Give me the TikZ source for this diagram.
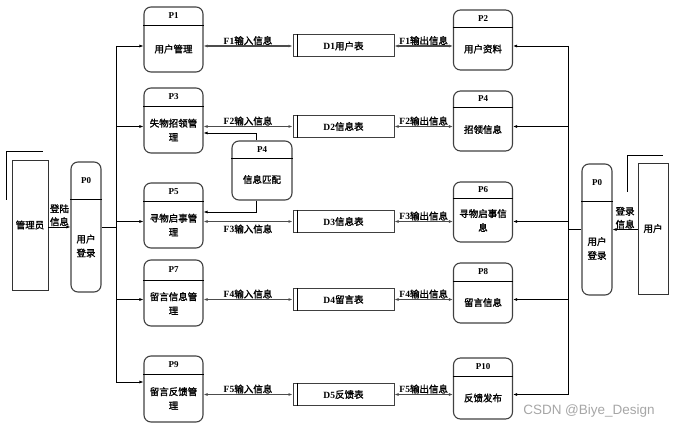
\documentclass[tikz,border=0pt]{standalone}
\usepackage{fontspec}
\setmainfont{Liberation Serif}
\newfontfamily\cjk{Noto Sans CJK SC}[AutoFakeBold=1.5]
\newfontfamily\wmfont{Liberation Sans}
\usetikzlibrary{arrows.meta,calc}

\newcommand{\dfdproc}[6]{%
  \node[procbox,#3] (#1) at (#2) {};
  \draw[divider] ([yshift=-#4]#1.north west) -- ([yshift=-#4]#1.north east);
  \node[ptitle] (#1-id) at ($(#1.north)!.5!([yshift=-#4]#1.north)$) {#5};
  \node[ptext] (#1-txt) at ($([yshift=-#4]#1.north)!.5!(#1.south)$) {#6};}

\begin{document}
\begin{tikzpicture}[x=1pt, y=-1pt,
    procbox/.style={draw=black!75, line width=1.1pt, rounded corners=7pt, minimum width=59pt, minimum height=65pt, inner sep=0pt},
    divider/.style={line width=1.2pt},
    ptitle/.style={font=\fontsize{9}{10}\selectfont\bfseries},
    ptext/.style={font=\fontsize{9.5}{14}\selectfont\cjk\bfseries, align=center},
    store/.style={draw=black!75, line width=1pt, minimum width=101pt, minimum height=22pt, inner sep=0pt, font=\fontsize{9.5}{11}\selectfont\bfseries},
    actor/.style={draw=black!80, line width=0.9pt, minimum width=36pt, minimum height=130pt, inner sep=0pt, font=\fontsize{9.5}{11}\selectfont\cjk\bfseries},
    flow/.style={-{Latex[length=4pt,width=3pt]}, line width=0.7pt},
    dflow/.style={{Latex[length=4pt,width=3pt]}-{Latex[length=4pt,width=3pt]}, line width=1.1pt, draw=black!70},
    flab/.style={font=\fontsize{9.5}{12}\selectfont\bfseries, inner sep=0.5pt}]
    \useasboundingbox (0,0) rectangle (681,430);

    \dfdproc{p1}{173.5,39.5}{}{19pt}{P1}{用户管理}
    \dfdproc{p3}{173.5,120.5}{}{19pt}{P3}{失物招领管\\理}
    \dfdproc{p5}{173.5,215.5}{}{19pt}{P5}{寻物启事管\\理}
    \dfdproc{p7}{173.5,293}{minimum height=66pt}{21pt}{P7}{留言信息管\\理}
    \dfdproc{p9}{173.5,389}{minimum height=66pt}{19pt}{P9}{留言反馈管\\理}
    \dfdproc{p2}{483,40}{minimum height=60pt}{18pt}{P2}{用户资料}
    \dfdproc{p4r}{483,121}{minimum height=60pt}{17pt}{P4}{招领信息}
    \dfdproc{p6}{483,212}{minimum height=60pt}{17pt}{P6}{寻物启事信\\息}
    \dfdproc{p8}{483,293}{minimum height=60pt}{19pt}{P8}{留言信息}
    \dfdproc{p10}{483,388.5}{minimum height=61pt}{19pt}{P10}{反馈发布}
    \dfdproc{p4m}{262,170.5}{minimum height=59pt, minimum width=60pt}{18pt}{P4}{信息匹配}
    \dfdproc{p0l}{86,227}{minimum width=30pt, minimum height=130pt}{38pt}{P0}{用户\\登录}
    \dfdproc{p0r}{597,229.5}{minimum width=30pt, minimum height=131pt}{38pt}{P0}{用户\\登录}

    \node[store] (d1) at (343.5,46) {D1\cjk 用户表};
    \node[store] (d2) at (343.5,126.5) {D2\cjk 信息表};
    \node[store] (d3) at (343.5,221.5) {D3\cjk 信息表};
    \node[store] (d4) at (343.5,299.5) {D4\cjk 留言表};
    \node[store] (d5) at (343.5,394.5) {D5\cjk 反馈表};
    \foreach \d in {d1,d2,d3,d4,d5}
        \draw[line width=1pt] ([xshift=5pt]\d.north west) -- ([xshift=5pt]\d.south west);

    \node[actor] (adm) at (30,225) {管理员};
    \node[actor, minimum width=30pt, minimum height=131pt] (usr) at (653,228.5) {用户};
    \draw[line width=0.9pt] ([xshift=-5pt,yshift=-40pt]adm.north west) |- ([xshift=-5pt,yshift=8pt]adm.north east);
    \draw[line width=0.9pt] ([xshift=-10pt,yshift=-29pt]usr.north west) |- ([xshift=-5pt,yshift=7pt]usr.north east);

    \draw[flow] (adm.east |- p0l.east) -- node[flab, above, align=center, font=\fontsize{9.5}{13}\selectfont\cjk\bfseries] {登陆\\信息} (p0l.west);
    \draw[flow] (usr.west |- p0r.east) -- node[flab, above, align=center, font=\fontsize{9.5}{13}\selectfont\cjk\bfseries] {登录\\信息} (p0r.east);

    \coordinate (lb1) at (116,46);
    \coordinate (lb2) at (116,382);
    \draw[line width=0.7pt] (lb1) -- (lb2);
    \draw[line width=0.7pt] (p0l.east) -- (p0l.east -| lb1);
    \foreach \p/\d in {p1/d1, p3/d2, p5/d3, p7/d4}
        \draw[flow] (lb1 |- \d.west) -- (\p.west |- \d.west);
    \draw[flow] (lb2) -- (lb2 -| p9.west);

    \coordinate (rb1) at (568,46);
    \coordinate (rb2) at (568,395);
    \draw[line width=0.7pt] (rb1) -- (rb2);
    \draw[line width=0.7pt] (p0r.west) -- (p0r.west -| rb1);
    \foreach \p/\d in {p2/d1, p4r/d2, p6/d3, p8/d4, p10/d5}
        \draw[flow] (rb1 |- \d.east) -- (\p.east |- \d.east);

    \foreach \p/\d/\n in {p1/d1/1, p3/d2/2, p7/d4/4, p9/d5/5}
        \draw[dflow] (\p.east |- \d.west) -- node[flab, above] {F\n\cjk 输入信息} (\d.west);
    \draw[dflow] (p5.east |- d3.west) -- node[flab, below=2pt] {F3\cjk 输入信息} (d3.west);
    \foreach \p/\d/\n in {p2/d1/1, p4r/d2/2, p6/d3/3, p8/d4/4, p10/d5/5}
        \draw[dflow] (\d.east) -- node[flab, above] {F\n\cjk 输出信息} (\p.west |- \d.east);

    \draw[flow] ([xshift=-6pt]p4m.north) |- ([yshift=-12.5pt]p3.east);
    \draw[flow] ([xshift=-6pt]p4m.south) |- ([yshift=3.5pt]p5.east);

    \node[font=\fontsize{13.5}{15}\selectfont\wmfont, text=black!35] (wm) at (589,411) {CSDN @Biye\_Design};
\end{tikzpicture}
\end{document}
